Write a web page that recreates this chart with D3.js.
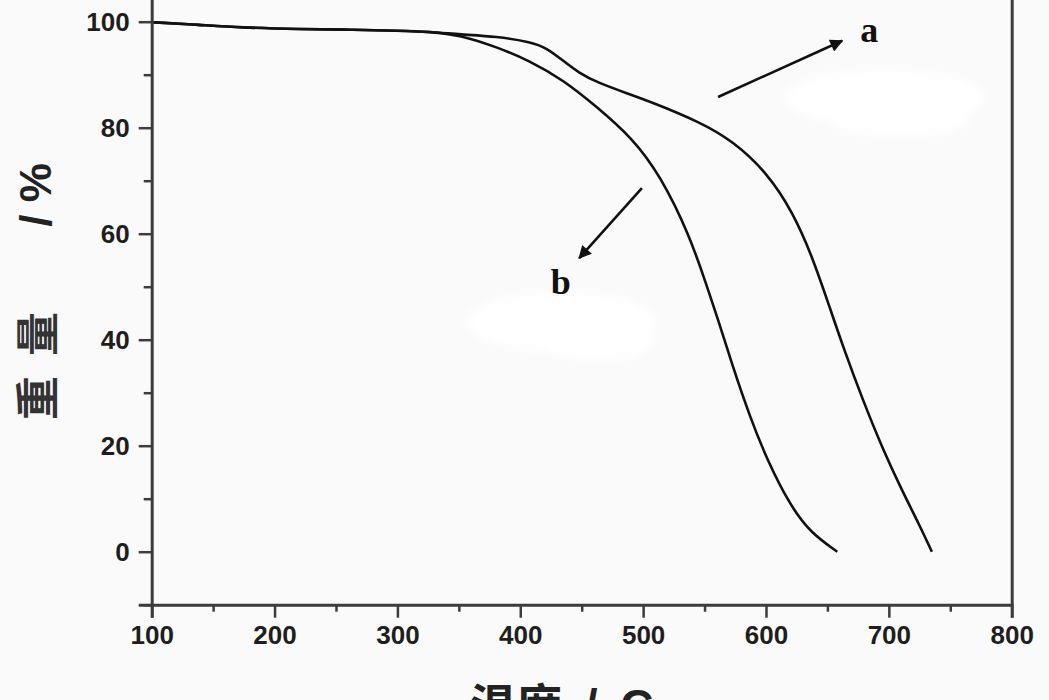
<!DOCTYPE html>
<html>
<head>
<meta charset="utf-8">
<script src="https://cdn.jsdelivr.net/npm/d3@7"></script>
<style>
  html, body { margin: 0; padding: 0; background: #fafafa; }
  svg { display: block; }
</style>
</head>
<body>
<svg id="chart" width="1049" height="700"></svg>
<script>
// ---- Data ----
const tempA   = [100, 139, 172, 221, 261, 302, 326, 351, 381, 408, 422, 435, 448, 462, 489, 505, 546, 573, 601, 622, 638, 652, 663, 679, 695, 711, 725, 735];
const weightA = [99.9, 99.4, 98.9, 98.6, 98.5, 98.3, 98.1, 97.6, 97.2, 96.2, 95.0, 92.6, 90.3, 88.6, 86.3, 85.0, 81.1, 77.5, 71.5, 64.0, 55.5, 46.0, 38.5, 28.5, 19.4, 11.4, 5.0, 0];
const tempB   = [100, 139, 172, 221, 261, 302, 326, 351, 381, 408, 435, 462, 491, 514, 538, 552, 560, 573, 587, 601, 619, 636, 658];
const weightB = [99.9, 99.4, 98.9, 98.6, 98.5, 98.3, 98.1, 97.5, 95.2, 92.6, 89.0, 84.0, 78.1, 71.0, 59.6, 50.0, 44.5, 34.9, 25.4, 17.3, 9.0, 3.6, 0];

const xTicks = [100, 200, 300, 400, 500, 600, 700, 800];
const yTicks = [0, 20, 40, 60, 80, 100];
const xMinorTicks = [150, 250, 350, 450, 550, 650, 750];
const yMinorTicks = [-10, 10, 30, 50, 70, 90];

const curveLabels = ["a", "b"];
// arrow annotations in data units: [fromT, fromW, toT, toW]
const arrowA = [561, 85.8, 662, 96.4];
const arrowB = [499, 68.6, 448, 55.4];
const labelPosA = [684, 98.4];
const labelPosB = [433, 50.9];

const xTitle = "温度 / C";
const yTitleMain = "重量";
const yTitleUnit = "/ %";

// ---- Drawing ----
const svg = d3.select("#chart");
const x = d3.scaleLinear().domain([100, 800]).range([151.7, 1011.7]);
const y = d3.scaleLinear().domain([-10, 110]).range([604.7, -31.3]);

const axisColor = "#3c3c3c";

// erased (white) patches in the original figure
const defs = svg.append("defs");
defs.append("filter").attr("id", "soft").append("feGaussianBlur").attr("stdDeviation", 4);
const patches = [[885, 98, 100, 28], [900, 118, 70, 18], [562, 322, 95, 30], [600, 340, 55, 20]];
svg.append("g").selectAll("ellipse").data(patches).join("ellipse")
  .attr("cx", d => d[0]).attr("cy", d => d[1]).attr("rx", d => d[2]).attr("ry", d => d[3])
  .attr("fill", "#ffffff").attr("filter", "url(#soft)");

// curves
const line = d3.line().x(d => x(d[0])).y(d => y(d[1])).curve(d3.curveBasis);
const seriesA = tempA.map((t, i) => [t, weightA[i]]);
const seriesB = tempB.map((t, i) => [t, weightB[i]]);
svg.append("g").selectAll("path").data([seriesA, seriesB]).join("path")
  .attr("d", line).attr("fill", "none").attr("stroke", "#111")
  .attr("stroke-width", 2.6).attr("stroke-linejoin", "round");

// axes
const gx = svg.append("g").attr("transform", `translate(0,${y(-10)})`);
gx.call(d3.axisBottom(x).tickValues(xTicks).tickSize(13).tickPadding(8).tickFormat(d3.format("d")));
const gxMinor = svg.append("g").attr("transform", `translate(0,${y(-10)})`);
gxMinor.call(d3.axisBottom(x).tickValues(xMinorTicks).tickSize(7).tickFormat(""));

const gy = svg.append("g").attr("transform", `translate(${x(100)},0)`);
gy.call(d3.axisLeft(y).tickValues(yTicks).tickSize(13).tickPadding(9).tickFormat(d3.format("d")));
const gyMinor = svg.append("g").attr("transform", `translate(${x(100)},0)`);
gyMinor.call(d3.axisLeft(y).tickValues(yMinorTicks).tickSize(8).tickFormat(""));

const gr = svg.append("g").attr("transform", `translate(${x(800)},0)`);
gr.call(d3.axisRight(y).tickValues([]).tickSizeOuter(0));

[gx, gxMinor, gy, gyMinor, gr].forEach(g => {
  g.select(".domain").attr("stroke", axisColor).attr("stroke-width", 3);
  g.selectAll(".tick line").attr("stroke", axisColor).attr("stroke-width", 2.5);
  g.selectAll(".tick text").attr("fill", "#1e1e1e")
    .style("font-family", "'Liberation Sans', Arial, sans-serif")
    .style("font-weight", "bold").style("font-size", "26px");
});
gxMinor.select(".domain").remove();
gyMinor.select(".domain").remove();

// arrows
defs.append("marker").attr("id", "head").attr("viewBox", "0 0 10 10")
  .attr("refX", 9).attr("refY", 5).attr("markerWidth", 6).attr("markerHeight", 5)
  .attr("markerUnits", "strokeWidth").attr("orient", "auto")
  .append("path").attr("d", "M0,0 L10,5 L0,10 z").attr("fill", "#111");

svg.append("g").selectAll("line").data([arrowA, arrowB]).join("line")
  .attr("x1", d => x(d[0])).attr("y1", d => y(d[1]))
  .attr("x2", d => x(d[2])).attr("y2", d => y(d[3]))
  .attr("stroke", "#111").attr("stroke-width", 2.6).attr("marker-end", "url(#head)");

svg.append("g").selectAll("text").data([labelPosA, labelPosB]).join("text")
  .attr("x", d => x(d[0])).attr("y", d => y(d[1]))
  .attr("text-anchor", "middle").attr("dominant-baseline", "central")
  .style("font-family", "'Liberation Serif', 'DejaVu Serif', serif")
  .style("font-weight", "bold").style("font-size", "36px").attr("fill", "#111")
  .text((d, i) => curveLabels[i]);

// axis titles
svg.append("text")
  .attr("x", 470).attr("y", 722)
  .style("font-family", "'Liberation Sans', 'Noto Sans CJK SC', sans-serif")
  .style("font-weight", "bold").style("font-size", "46px").style("word-spacing", "10px")
  .attr("fill", "#222").text(xTitle);

svg.append("text")
  .attr("transform", "translate(35,356) rotate(-90)")
  .attr("text-anchor", "middle").attr("dominant-baseline", "central")
  .style("font-family", "'Noto Sans CJK SC', sans-serif")
  .style("font-weight", "bold").style("font-size", "44px").style("letter-spacing", "20px")
  .attr("fill", "#333").text(yTitleMain);

svg.append("text")
  .attr("transform", "translate(35,195) rotate(-90)")
  .attr("text-anchor", "middle").attr("dominant-baseline", "central")
  .style("font-family", "'Liberation Sans', Arial, sans-serif")
  .style("font-weight", "bold").style("font-size", "44px")
  .attr("fill", "#222").text(yTitleUnit);
</script>
</body>
</html>
